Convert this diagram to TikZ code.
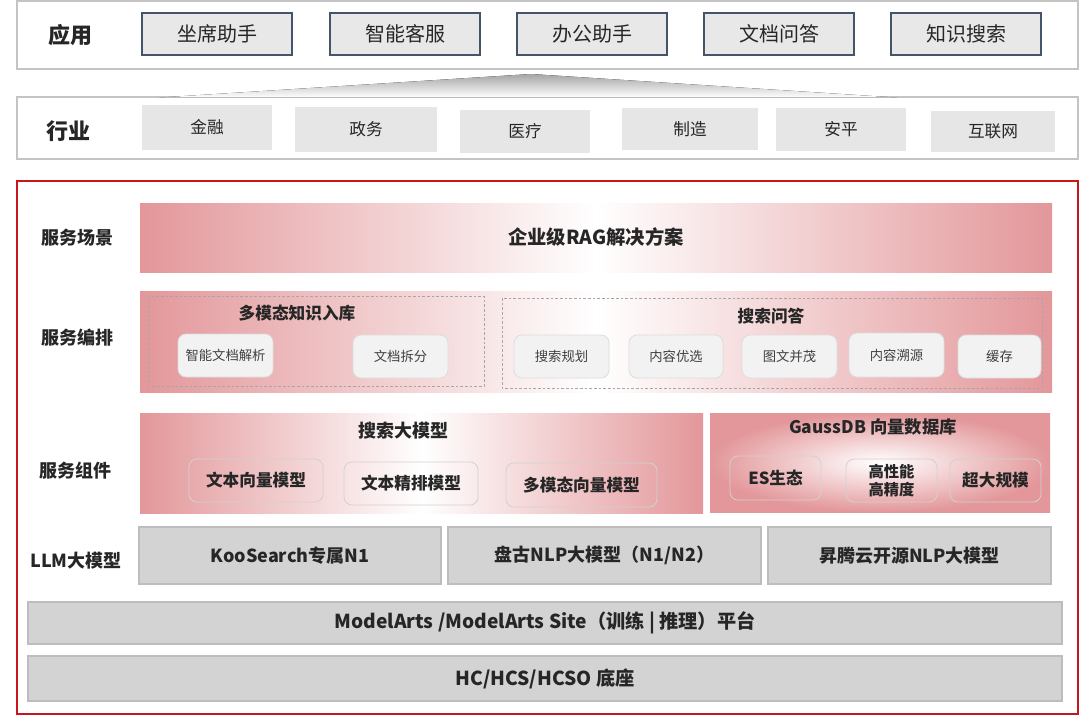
\documentclass[tikz,border=0pt]{standalone}
\usepackage{fontspec}
\setmainfont{Noto Sans CJK SC}
\definecolor{appedge}{HTML}{44546A}
\definecolor{appfill}{HTML}{E8E8E8}
\definecolor{tilefill}{HTML}{E6E6E6}
\definecolor{layerline}{HTML}{C4C4C4}
\definecolor{bandred}{HTML}{E3979A}
\definecolor{framered}{HTML}{C8161D}
\definecolor{llmfill}{HTML}{D3D3D3}
\definecolor{llmedge}{HTML}{BDBDBD}
\definecolor{chipfill}{HTML}{F2F2F2}
\definecolor{chipedge}{HTML}{DCDCDC}
\definecolor{textink}{HTML}{262626}

\begin{document}
\begin{tikzpicture}[
  x=0.75pt,
  y=-0.75pt,
  every node/.style={text=textink},
  dims/.style 2 args={minimum width=#1*0.75pt, minimum height=#2*0.75pt, inner sep=0pt},
  layer/.style={draw=layerline, line width=1.1pt, fill=white},
  rowtitle/.style={font=\bfseries\fontsize{16.5}{18}\selectfont},
  rowlabel/.style={font=\bfseries\fontsize{13.5}{15}\selectfont},
  appbox/.style={draw=appedge, line width=1.1pt, fill=appfill, font=\fontsize{15}{17}\selectfont},
  tile/.style={fill=tilefill, font=\fontsize{12.5}{14}\selectfont},
  band/.style={left color=bandred, right color=bandred, middle color=white, draw=none},
  dashframe/.style={draw=gray!70, line width=0.5pt, dash pattern=on 2pt off 1.5pt},
  sectitle/.style={font=\bfseries\fontsize{12.5}{14}\selectfont},
  chip/.style={draw=chipedge, line width=0.6pt, fill=chipfill, rounded corners=6pt, font=\fontsize{10}{12}\selectfont, text=black!75},
  modelchip/.style={draw=black!18, line width=0.6pt, rounded corners=6pt, font=\bfseries\fontsize{12.5}{15}\selectfont},
  llmbox/.style={draw=llmedge, line width=0.8pt, fill=llmfill, font=\bfseries\fontsize{13.5}{15}\selectfont},
  basebox/.style={llmbox, font=\bfseries\fontsize{14.4}{16}\selectfont}
]
  % ---- page ------------------------------------------------------------
  \useasboundingbox (0,0) rectangle (1080,715);

  % ---- application layer -----------------------------------------------
  \draw[layer] (17,1) rectangle (1078,69);
  \node[rowtitle] (appl) at (70,35) {应用};
  \node[appbox, dims={150}{42}] (app1) at (217,34) {坐席助手};
  \node[appbox, dims={150}{42}] (app2) at (405,34) {智能客服};
  \node[appbox, dims={150}{42}] (app3) at (592,34) {办公助手};
  \node[appbox, dims={150}{42}] (app4) at (779,34) {文档问答};
  \node[appbox, dims={150}{42}] (app5) at (966,34) {知识搜索};

  % ---- industry layer, with the grey wedge above it --------------------
  \draw[layer] (17,97) rectangle (1078,159);
  \fill[top color=black!35, bottom color=white]
    (159,97.6) -- (531,74) -- (897,97.6) -- cycle;
  \node[rowtitle] (indl) at (68,131) {行业};
  \node[tile, dims={130}{45}] (ind1) at (207,127.5) {金融};
  \node[tile, dims={142}{45}] (ind2) at (366,129.5) {政务};
  \node[tile, dims={130}{43}] (ind3) at (525,131) {医疗};
  \node[tile, dims={136}{42}] (ind4) at (690,129) {制造};
  \node[tile, dims={130}{43}] (ind5) at (841,129.5) {安平};
  \node[tile, dims={124}{41}] (ind6) at (993,131.5) {互联网};

  % ---- red frame round the service stack -------------------------------
  \draw[framered, line width=1.2pt] (17,181) rectangle (1078,714);

  \node[rowlabel] (lscene) at (77,238) {服务场景};
  \node[rowlabel] (lorch)  at (77,338) {服务编排};
  \node[rowlabel] (lcomp)  at (75,471) {服务组件};
  \node[rowlabel] (lllm)   at (76,561) {LLM大模型};

  % ---- service scene ---------------------------------------------------
  \node[band, dims={912}{69}, font=\bfseries\fontsize{14.5}{16}\selectfont]
    (scene) at (596,237.5) {企业级RAG解决方案};

  % ---- service orchestration -------------------------------------------
  \node[band, dims={912}{101}] (orch) at (596,341.5) {};
  \draw[dashframe] (149,296) rectangle (484,386);
  \draw[dashframe] (502,298) rectangle (1042,388);
  \node[sectitle] (ingest) at (297,313) {多模态知识入库};
  \node[sectitle] (qa) at (771,316) {搜索问答};
  \node[chip, dims={95}{43}] (parse) at (225.5,355.5) {智能文档解析};
  \node[chip, dims={95}{43}] (split) at (400.5,356.5) {文档拆分};
  \node[chip, dims={95}{43}] (plan)  at (561.5,356.5) {搜索规划};
  \node[chip, dims={94}{43}] (pick)  at (676,356.5) {内容优选};
  \node[chip, dims={95}{43}] (mixed) at (789.5,356.5) {图文并茂};
  \node[chip, dims={95}{44}] (trace) at (896.5,355) {内容溯源};
  \node[chip, dims={83}{43}] (cache) at (999.5,356.5) {缓存};

  % ---- service components ----------------------------------------------
  \node[band, dims={563}{100}] (search) at (421.5,463) {};
  \node[draw=none, shading=radial, inner color=white, outer color=bandred,
    dims={340}{99}] (gauss) at (880,462.5) {};
  \node[sectitle, font=\bfseries\fontsize{13.5}{15}\selectfont] (searcht) at (403,431) {搜索大模型};
  \node[sectitle, font=\bfseries\fontsize{13}{15}\selectfont] (gausst) at (873,427) {GaussDB 向量数据库};
  \node[modelchip, dims={134}{43}] (emb)   at (256,480.5) {文本向量模型};
  \node[modelchip, dims={134}{43}] (rank)  at (411,483.5) {文本精排模型};
  \node[modelchip, dims={151}{44}] (mmemb) at (581.5,485) {多模态向量模型};
  \node[modelchip, dims={91}{44}] (es)    at (775.5,478) {ES生态};
  \node[modelchip, dims={91}{43}, align=center, font=\bfseries\fontsize{11.5}{13}\selectfont]
    (perf) at (891.5,480.5) {高性能\\高精度};
  \node[modelchip, dims={91}{43}] (scale) at (995.5,480.5) {超大规模};

  % ---- LLM row ---------------------------------------------------------
  \node[llmbox, dims={302}{57}] (koo)    at (290,555.5) {KooSearch专属N1};
  \node[llmbox, dims={313}{57}] (pangu)  at (604.5,555.5) {盘古NLP大模型（N1/N2）};
  \node[llmbox, dims={283}{57}] (ascend) at (909.5,555.5) {昇腾云开源NLP大模型};

  % ---- platform and base -----------------------------------------------
  \node[basebox, dims={1034}{42}] (platform) at (545,623)
    {ModelArts /ModelArts Site（训练 | 推理）平台};
  \node[basebox, dims={1034}{45}] (base) at (545,678.5) {HC/HCS/HCSO 底座};

\end{tikzpicture}
\end{document}
